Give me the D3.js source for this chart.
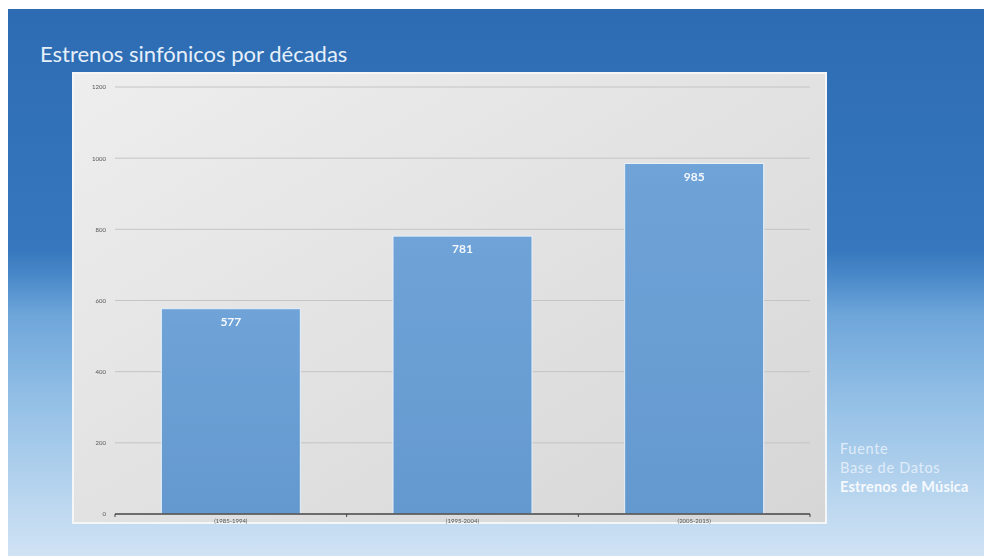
<!DOCTYPE html>
<html>
<head>
<meta charset="utf-8">
<script src="https://cdn.jsdelivr.net/npm/d3@7"></script>
<style>
  html, body { margin: 0; padding: 0; background: #ffffff; }
  svg { display: block; }
</style>
</head>
<body>
<svg id="chart" width="984" height="556"></svg>
<script>
// Symphonic premieres per decade
const categories = ["(1985-1994)", "(1995-2004)", "(2005-2015)"];
const premieres = [577, 781, 985];
const yTicks = [0, 200, 400, 600, 800, 1000, 1200];
const sourceLines = ["Fuente", "Base de Datos", "Estrenos de Música"];

const svg = d3.select("#chart");
const W = 984, H = 556;
const defs = svg.append("defs");

// slide background: deep blue at top fading to pale blue at the bottom
const bg = defs.append("linearGradient").attr("id", "bg")
  .attr("x1", 0).attr("y1", 0).attr("x2", 0).attr("y2", 1);
[[0, "#2d6cb2"], [0.44, "#3677bd"], [0.5, "#4f8dcb"], [0.56, "#6ea6da"], [0.72, "#94c0e6"], [1, "#d0e3f4"]]
  .forEach(([o, c]) => bg.append("stop").attr("offset", o).attr("stop-color", c));

// plot panel: light grey with a soft diagonal sheen
const panel = defs.append("linearGradient").attr("id", "panel")
  .attr("x1", 0).attr("y1", 0).attr("x2", 1).attr("y2", 1);
[[0, "#eeeeee"], [0.5, "#e2e2e2"], [1, "#d6d6d6"]]
  .forEach(([o, c]) => panel.append("stop").attr("offset", o).attr("stop-color", c));

const barGrad = defs.append("linearGradient").attr("id", "bar")
  .attr("x1", 0).attr("y1", 0).attr("x2", 0).attr("y2", 1);
[[0, "#6fa3d8"], [1, "#6499cf"]]
  .forEach(([o, c]) => barGrad.append("stop").attr("offset", o).attr("stop-color", c));

const soft = defs.append("filter").attr("id", "soft");
soft.append("feGaussianBlur").attr("stdDeviation", 0.5);

svg.append("rect").attr("x", 8).attr("y", 9).attr("width", W - 8).attr("height", H - 9)
  .attr("fill", "url(#bg)");

// panel
const px0 = 73, py0 = 73, px1 = 826, py1 = 523;
svg.append("rect").attr("x", px0).attr("y", py0).attr("width", px1 - px0).attr("height", py1 - py0)
  .attr("fill", "url(#panel)").attr("stroke", "#f4f6f8").attr("stroke-width", 2);

// title
svg.append("text").attr("x", 40).attr("y", 62)
  .attr("font-family", "Lato, 'Open Sans', sans-serif").attr("font-size", 22)
  .attr("fill", "#e6f0fa").text("Estrenos sinfónicos por décadas");

// scales
const x = d3.scaleBand().domain(categories).range([115, 810]).paddingInner(0.4).paddingOuter(0.2);
const y = d3.scaleLinear().domain([0, 1200]).range([514, 87]);

const g = svg.append("g").attr("filter", "url(#soft)");

// gridlines
g.append("g").selectAll("line").data(yTicks.filter(t => t > 0)).join("line")
  .attr("x1", 115).attr("x2", 810)
  .attr("y1", d => y(d)).attr("y2", d => y(d))
  .attr("stroke", "#c4c4c4").attr("stroke-width", 1);

// y axis labels (no axis line)
const yAxis = d3.axisLeft(y).tickValues(yTicks).tickFormat(d3.format("d")).tickSize(0).tickPadding(0);
const ya = g.append("g").attr("transform", "translate(106,0)").call(yAxis);
ya.select(".domain").remove();
ya.selectAll("text").attr("font-family", "Lato, sans-serif").attr("font-size", 6)
  .attr("fill", "#555555");

// bars
g.append("g").selectAll("rect").data(premieres).join("rect")
  .attr("x", (d, i) => x(categories[i]))
  .attr("y", d => y(d))
  .attr("width", x.bandwidth())
  .attr("height", d => y(0) - y(d))
  .attr("fill", "url(#bar)")
  .attr("stroke", "#e8f0f8").attr("stroke-width", 1);

// value labels
g.append("g").selectAll("text").data(premieres).join("text")
  .attr("x", (d, i) => x(categories[i]) + x.bandwidth() / 2)
  .attr("y", d => y(d) + 17)
  .attr("text-anchor", "middle")
  .attr("font-family", "Lato, sans-serif").attr("font-weight", "bold").attr("font-size", 12)
  .attr("fill", "#f4f8fc").text(d => d);

// x axis
const xAxis = d3.axisBottom(x).tickSize(0).tickPadding(5);
const xa = g.append("g").attr("transform", `translate(0,${y(0)})`).call(xAxis);
xa.select(".domain").attr("stroke", "#444444").attr("stroke-width", 1.5)
  .attr("d", "M115,0H810");
xa.selectAll("text").attr("font-family", "Lato, sans-serif").attr("font-size", 6)
  .attr("fill", "#555555");
// category boundary ticks
const step = x.step();
const bounds = categories.map((c, i) => x(c) + x.bandwidth() + step * x.paddingInner() / 2);
g.append("g").selectAll("line").data(bounds).join("line")
  .attr("x1", d => d).attr("x2", d => d)
  .attr("y1", y(0)).attr("y2", y(0) + 3)
  .attr("stroke", "#444444").attr("stroke-width", 1);
g.append("line").attr("x1", 115).attr("x2", 115).attr("y1", y(0)).attr("y2", y(0) + 3)
  .attr("stroke", "#444444");

// source note
svg.append("g").selectAll("text").data(sourceLines).join("text")
  .attr("x", 840)
  .attr("y", (d, i) => 454 + i * 19)
  .attr("font-family", "Lato, 'Open Sans', sans-serif").attr("font-size", 14.5)
  .attr("letter-spacing", (d, i) => i === 2 ? 0.2 : 0.7)
  .attr("font-weight", (d, i) => i === 2 ? "bold" : "normal")
  .attr("fill", (d, i) => i === 2 ? "#f6f9fd" : "#e0ecf8")
  .text(d => d);
</script>
</body>
</html>
